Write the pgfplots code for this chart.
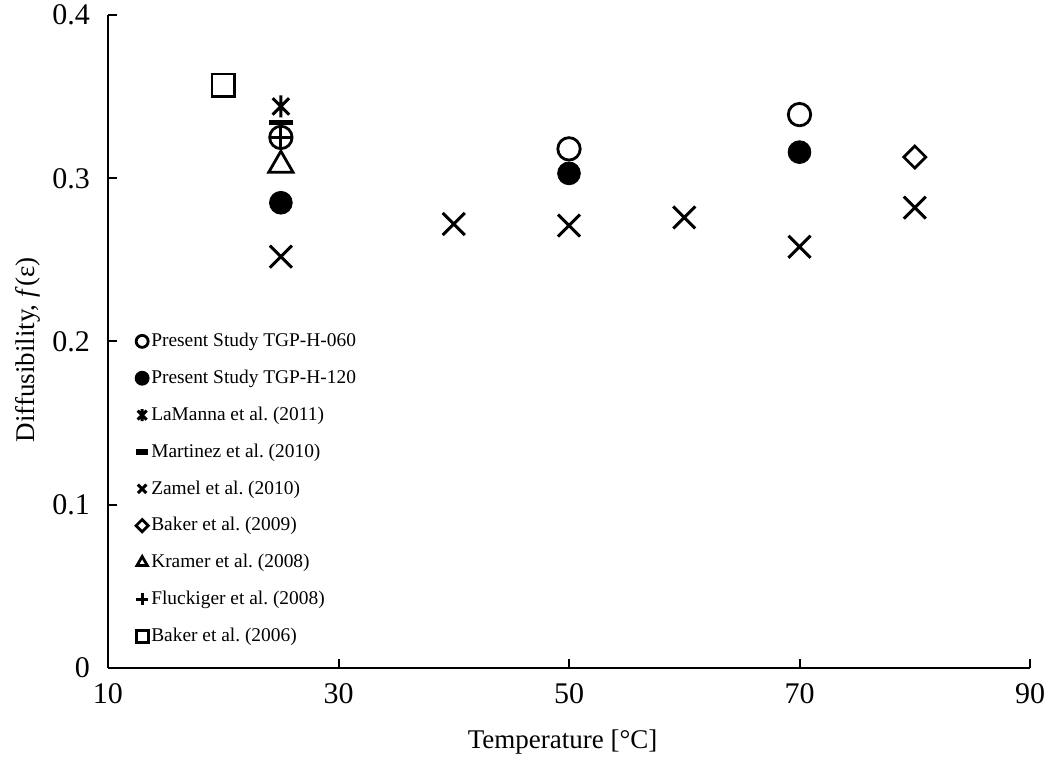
\documentclass[border=0pt]{standalone}
\usepackage{fontspec}
\setmainfont{Liberation Serif}
\usepackage{pgfplots}
\pgfplotsset{compat=1.18}
\usetikzlibrary{calc}

% X with a vertical bar, as in the reference
\pgfdeclareplotmark{xbar}{%
  \pgfpathmoveto{\pgfqpoint{0pt}{-\pgfplotmarksize}}%
  \pgfpathlineto{\pgfqpoint{0pt}{\pgfplotmarksize}}%
  \pgfpathmoveto{\pgfqpoint{-.75\pgfplotmarksize}{-.75\pgfplotmarksize}}%
  \pgfpathlineto{\pgfqpoint{.75\pgfplotmarksize}{.75\pgfplotmarksize}}%
  \pgfpathmoveto{\pgfqpoint{-.75\pgfplotmarksize}{.75\pgfplotmarksize}}%
  \pgfpathlineto{\pgfqpoint{.75\pgfplotmarksize}{-.75\pgfplotmarksize}}%
  \pgfusepathqstroke}

\begin{document}
\frenchspacing
\begin{tikzpicture}
\begin{axis}[
    name=ax,
    scale only axis,
    width=461pt, height=326.5pt,
    xmin=10, xmax=90, ymin=0, ymax=0.4,
    xtick={10,30,50,70,90},
    ytick={0,0.1,0.2,0.3,0.4},
    yticklabels={0,0.1,0.2,0.3,0.4},
    axis x line*=bottom, axis y line*=left,
    axis line style={line width=1pt},
    every tick/.style={black, line width=1pt},
    major tick length=4.5pt,
    tick align=inside,
    tick label style={font=\fontsize{15}{18}\selectfont},
    /pgf/number format/assume math mode=true,
    xticklabel style={yshift=-4pt},
    yticklabel style={xshift=-5.5pt},
    xlabel={Temperature [°C]},
    ylabel={Diffusibility, \textit{f}(ε)},
    label style={font=\fontsize{13.5}{15}\selectfont},
    xlabel style={at={(axis description cs:0.493,-0.1133)}, anchor=center},
    ylabel style={at={(axis description cs:-0.0868,0.487)}, anchor=center},
    clip=false,
    legend cell align=left,
    legend style={at={(axis description cs:0.03,0.518)}, anchor=north west,
        draw=none, fill=none, font=\fontsize{9.7}{11}\selectfont,
        row sep=7.2pt, inner sep=0pt,
        nodes={inner sep=1.5pt}},
    legend image code/.code={\draw[line width=1.4pt, #1, mark size=3pt] plot coordinates {(0.1cm,0cm)};},
]
\coordinate (bl) at (rel axis cs:0,0);
\coordinate (tr) at (rel axis cs:1,1);

\addplot[only marks, mark=o, mark size=5.6pt, line width=1.4pt] coordinates {
    (25,0.325) (50,0.318) (70,0.339)};
\addlegendentry{Present Study TGP-H-060}
\addplot[only marks, mark=*, mark size=5.7pt, fill=black] coordinates {
    (25,0.285) (50,0.303) (70,0.316)};
\addlegendentry{Present Study TGP-H-120}
\addplot[only marks, mark=xbar, mark size=5.5pt, mark options={line width=1.5pt}] coordinates {
    (25,0.344)};
\addlegendentry{LaManna et al. (2011)}
\addplot[only marks, mark=-, mark size=6pt, mark options={line width=2.6pt}] coordinates {
    (25,0.334)};
\addlegendentry{Martinez et al. (2010)}
\addplot[only marks, mark=x, mark size=7.8pt, mark options={line width=1.5pt}] coordinates {
    (25,0.252) (40,0.272) (50,0.271) (60,0.276) (70,0.258) (80,0.282)};
\addlegendentry{Zamel et al. (2010)}
\addplot[only marks, mark=square, mark options={rotate=45, scale=0.72}, mark size=5.4pt, line width=1.4pt] coordinates {
    (80,0.313)};
\addlegendentry{Baker et al. (2009)}
\addplot[only marks, mark=triangle, mark size=7pt, line width=1.4pt] coordinates {
    (25,0.308)};
\addlegendentry{Kramer et al. (2008)}
\addplot[only marks, mark=+, mark size=5.5pt, mark options={line width=1.5pt}] coordinates {
    (25,0.325)};
\addlegendentry{Fluckiger et al. (2008)}
\addplot[only marks, mark=square, mark size=5.6pt, line width=1.4pt] coordinates {
    (20,0.357)};
\addlegendentry{Baker et al. (2006)}
\end{axis}
\pgfresetboundingbox
\useasboundingbox ($(bl)+(-54pt,-48pt)$) rectangle ($(tr)+(9pt,7.5pt)$);
\end{tikzpicture}
\end{document}
